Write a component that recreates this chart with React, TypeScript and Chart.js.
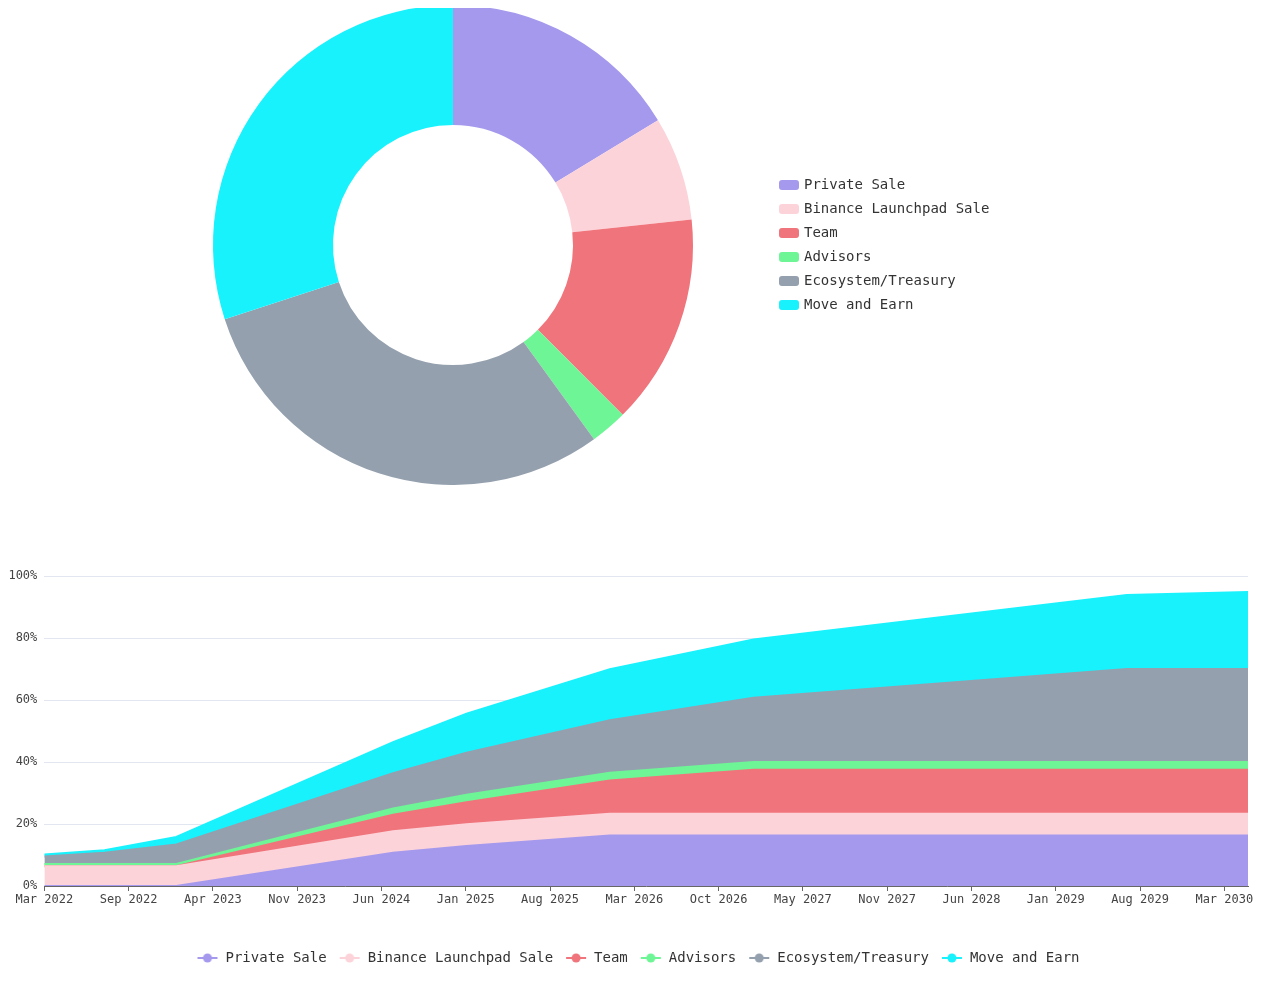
import React, { useEffect, useRef } from 'react';
import { Chart, registerables } from 'chart.js';

Chart.register(...registerables);

// ---------- data ----------
const allocationLabels = [
  'Private Sale',
  'Binance Launchpad Sale',
  'Team',
  'Advisors',
  'Ecosystem/Treasury',
  'Move and Earn',
];
const allocationShares = [16.3, 7, 14.2, 2.5, 30, 30];
const seriesColors = ['#A499ED', '#FDD3DA', '#F0747B', '#6EF596', '#94A0AE', '#18F2FD'];

// unlock schedule (percent of total supply unlocked, per allocation)
const unlockDates = [
  '2022-03-01',
  '2022-07-29',
  '2023-01-24',
  '2024-07-17',
  '2025-01-16',
  '2026-01-08',
  '2027-01-01',
  '2029-07-19',
  '2030-05-17',
];
const privateSaleUnlocked = [0, 0, 0, 10.7, 12.9, 16.3, 16.3, 16.3, 16.3];
const launchpadUnlocked = [6.4, 6.4, 6.4, 7.0, 7.0, 7.0, 7.0, 7.0, 7.0];
const teamUnlocked = [0, 0, 0, 5.3, 7.1, 10.7, 14.2, 14.2, 14.2];
const advisorsUnlocked = [0.7, 0.7, 0.7, 2.0, 2.4, 2.5, 2.5, 2.5, 2.5];
const ecosystemUnlocked = [2.4, 3.6, 6.3, 11.4, 13.6, 17.0, 20.7, 30.0, 30.0];
const moveEarnUnlocked = [0.65, 0.8, 2.4, 10.0, 12.6, 16.4, 18.8, 23.9, 24.8];

const tickDates = [
  '2022-03-01', '2022-09-27', '2023-04-25', '2023-11-21', '2024-06-18',
  '2025-01-14', '2025-08-12', '2026-03-10', '2026-10-06', '2027-05-04',
  '2027-11-30', '2028-06-27', '2029-01-23', '2029-08-21', '2030-03-19',
];
const tickLabels = [
  'Mar 2022', 'Sep 2022', 'Apr 2023', 'Nov 2023', 'Jun 2024',
  'Jan 2025', 'Aug 2025', 'Mar 2026', 'Oct 2026', 'May 2027',
  'Nov 2027', 'Jun 2028', 'Jan 2029', 'Aug 2029', 'Mar 2030',
];
const yTickValues = [0, 20, 40, 60, 80, 100];

const FONT = '"DejaVu Sans Mono", monospace';
const DAY = 86400000;
const START = Date.parse(unlockDates[0]);
const dayOf = (d: string) => Math.round((Date.parse(d) - START) / DAY);

const seriesValues = [
  privateSaleUnlocked,
  launchpadUnlocked,
  teamUnlocked,
  advisorsUnlocked,
  ecosystemUnlocked,
  moveEarnUnlocked,
];

function makeLineIcon(color: string) {
  const c = document.createElement('canvas');
  c.width = 22;
  c.height = 12;
  const ctx = c.getContext('2d')!;
  ctx.strokeStyle = color;
  ctx.lineWidth = 2;
  ctx.beginPath();
  ctx.moveTo(1, 6);
  ctx.lineTo(21, 6);
  ctx.stroke();
  ctx.fillStyle = color;
  ctx.beginPath();
  ctx.arc(11, 6, 4.5, 0, Math.PI * 2);
  ctx.fill();
  return c;
}

function makeSwatchIcon(color: string) {
  const c = document.createElement('canvas');
  c.width = 20;
  c.height = 10;
  const ctx = c.getContext('2d')!;
  ctx.fillStyle = color;
  const r = 3;
  ctx.beginPath();
  ctx.moveTo(r, 0);
  ctx.lineTo(20 - r, 0);
  ctx.arcTo(20, 0, 20, r, r);
  ctx.lineTo(20, 10 - r);
  ctx.arcTo(20, 10, 20 - r, 10, r);
  ctx.lineTo(r, 10);
  ctx.arcTo(0, 10, 0, 10 - r, r);
  ctx.lineTo(0, r);
  ctx.arcTo(0, 0, r, 0, r);
  ctx.closePath();
  ctx.fill();
  return c;
}

function AllocationDoughnut() {
  const ref = useRef<HTMLCanvasElement | null>(null);
  useEffect(() => {
    if (!ref.current) return;
    const swatches = seriesColors.map(makeSwatchIcon);
    const chart = new Chart(ref.current, {
      type: 'doughnut',
      data: {
        labels: allocationLabels,
        datasets: [
          {
            data: allocationShares,
            backgroundColor: seriesColors,
            borderWidth: 0,
            hoverOffset: 0,
          },
        ],
      },
      options: {
        animation: false,
        responsive: true,
        maintainAspectRatio: false,
        cutout: '50%',
        layout: { padding: { left: 127, right: 257.6, top: 0, bottom: 0 } },
        plugins: {
          legend: {
            position: 'right',
            align: 'center',
            labels: {
              usePointStyle: true,
              pointStyleWidth: 16,
              padding: 10,
              color: '#333',
              font: { family: FONT, size: 14 },
              generateLabels: (ch: any) => {
                const items = (Chart.overrides.doughnut.plugins.legend.labels as any).generateLabels(ch);
                return items.map((it: any, i: number) => ({ ...it, pointStyle: swatches[i], lineWidth: 0 }));
              },
            },
          },
          tooltip: { enabled: false },
        },
      },
    } as any);
    return () => chart.destroy();
  }, []);
  return (
    <div style={{ position: 'relative', height: 480 }}>
      <canvas ref={ref} />
    </div>
  );
}

const legendShift = {
  id: 'legendShift',
  afterLayout(chart: any) {
    if (chart.legend) {
      chart.legend.left += 10;
      chart.legend.right += 10;
    }
  },
};

function UnlockArea() {
  const ref = useRef<HTMLCanvasElement | null>(null);
  useEffect(() => {
    if (!ref.current) return;
    const icons = seriesColors.map(makeLineIcon);
    const tickDays = tickDates.map(dayOf);
    const lastDay = dayOf(unlockDates[unlockDates.length - 1]);
    const labelFor = (v: number) => {
      const i = tickDays.indexOf(v);
      return i >= 0 ? tickLabels[i] : '';
    };
    const chart = new Chart(ref.current, {
      type: 'line',
      data: {
        datasets: seriesValues.map((vals, i) => ({
          label: allocationLabels[i],
          data: vals.map((v, j) => ({ x: dayOf(unlockDates[j]), y: v })),
          backgroundColor: seriesColors[i],
          borderColor: seriesColors[i],
          borderWidth: 2,
          fill: i === 0 ? 'origin' : '-1',
          pointRadius: 0,
          pointHoverRadius: 0,
          tension: 0,
        })),
      },
      options: {
        animation: false,
        responsive: true,
        maintainAspectRatio: false,
        layout: { padding: { left: 0, right: 9, top: 91, bottom: 7 } },
        scales: {
          x: {
            type: 'linear',
            min: 0,
            max: lastDay,
            afterBuildTicks: (scale: any) => {
              scale.ticks = tickDays.map((v) => ({ value: v }));
            },
            afterFit: (scale: any) => {
              scale.height = 53;
            },
            ticks: {
              autoSkip: false,
              maxRotation: 0,
              padding: 2,
              color: '#444',
              font: { family: FONT, size: 12 },
              callback: (v: any) => labelFor(Number(v)),
            },
            grid: {
              display: true,
              drawOnChartArea: false,
              drawTicks: true,
              tickLength: 5,
              color: '#666',
            },
            border: { display: true, color: '#666', width: 1 },
          },
          y: {
            stacked: true,
            min: 0,
            max: 100,
            afterBuildTicks: (scale: any) => {
              scale.ticks = yTickValues.map((v) => ({ value: v }));
            },
            afterFit: (scale: any) => {
              scale.width = 36.3;
            },
            ticks: {
              padding: 7,
              color: '#444',
              font: { family: FONT, size: 12 },
              callback: (v: any) => `${v}%`,
            },
            grid: { color: '#E1E6F1', drawTicks: false },
            border: { display: false },
          },
        },
        plugins: {
          legend: {
            position: 'bottom',
            labels: {
              usePointStyle: true,
              pointStyleWidth: 22,
              padding: 12,
              color: '#333',
              font: { family: FONT, size: 14 },
              generateLabels: (ch: any) => {
                const items = (Chart.defaults.plugins.legend.labels as any).generateLabels(ch);
                return items.map((it: any, i: number) => ({ ...it, pointStyle: icons[i], lineWidth: 0 }));
              },
            },
          },
          tooltip: { enabled: false },
        },
      },
      plugins: [legendShift],
    } as any);
    return () => chart.destroy();
  }, []);
  return (
    <div style={{ position: 'relative', height: 497 }}>
      <canvas ref={ref} />
    </div>
  );
}

export default function App() {
  return (
    <div style={{ marginTop: -3 }}>
      <AllocationDoughnut />
      <UnlockArea />
    </div>
  );
}
